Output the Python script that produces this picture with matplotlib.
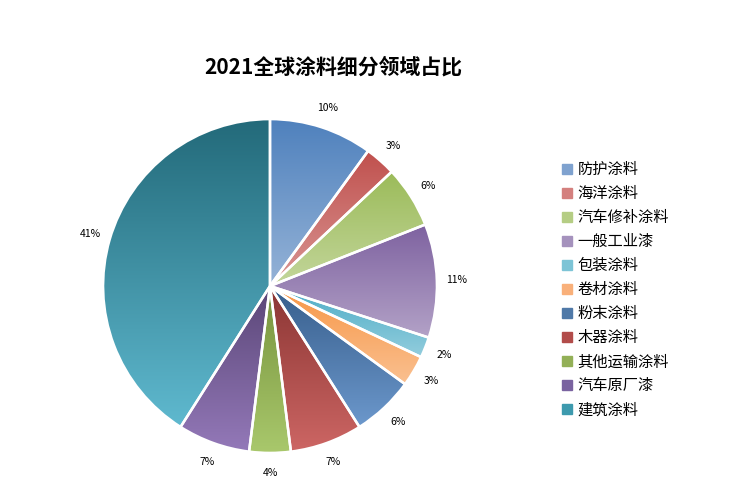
import numpy as np
import matplotlib
matplotlib.use('Agg')
import matplotlib.pyplot as plt
from matplotlib.colors import to_rgb
from matplotlib.lines import Line2D

plt.rcParams['font.family'] = ['Noto Sans CJK SC', 'DejaVu Sans']

# data
categories = ['防护涂料', '海洋涂料', '汽车修补涂料', '一般工业漆', '包装涂料', '卷材涂料',
              '粉末涂料', '木器涂料', '其他运输涂料', '汽车原厂漆', '建筑涂料']
shares = [10, 3, 6, 11, 2, 3, 6, 7, 4, 7, 41]

# gradient colours (top, bottom) for each slice
top_colors = ['#4f81bd', '#c0504d', '#9bbb59', '#7e62a0', '#4bacc6', '#f79646',
              '#375e8c', '#8a3533', '#76923c', '#5a4677', '#236a7a']
bottom_colors = ['#95b3d7', '#d99694', '#c3d69b', '#b3a2c7', '#93cddd', '#fac090',
                 '#6c98cc', '#cd6664', '#a9c86c', '#9479b9', '#5fb9cf']
legend_colors = ['#7fa2cf', '#d4807e', '#b5cd84', '#a592bd', '#7dc4d6', '#f9b07a',
                 '#4f79a8', '#b24c4a', '#93b057', '#7a63a0', '#3d9aae']

fig = plt.figure(figsize=(7.42, 5.0), dpi=100)
ax = fig.add_axes([53 / 742, -3 / 500, 434 / 742, 434 / 500])

wedges, texts = ax.pie(shares, startangle=90, counterclock=False, radius=1.0,
                       labels=[f'{v}%' for v in shares], labeldistance=1.12,
                       wedgeprops=dict(edgecolor='white', linewidth=1.8, facecolor='none'),
                       textprops=dict(fontsize=7.5, ha='center', va='center'))

for w, c1, c2 in zip(wedges, top_colors, bottom_colors):
    ext = w.get_path().get_extents()
    t = np.linspace(0, 1, 256)[:, None]
    grad = (1 - t) * np.array(to_rgb(c1)) + t * np.array(to_rgb(c2))
    im = ax.imshow(grad[:, None, :], extent=[ext.x0, ext.x1, ext.y0, ext.y1],
                   origin='upper', aspect='auto', zorder=1, interpolation='bilinear')
    im.set_clip_path(w)
    w.set_zorder(2)

ax.set_xlim(-1.3, 1.3)
ax.set_ylim(-1.3, 1.3)
ax.set_aspect('equal')
ax.axis('off')

fig.text(333 / 742, 1 - 67 / 500, '2021全球涂料细分领域占比', ha='center', va='center',
         fontsize=15, fontweight='bold')

handles = [Line2D([], [], marker='s', linestyle='none', markersize=7,
                  markerfacecolor=c, markeredgecolor=c) for c in legend_colors]
fig.legend(handles, categories, loc='upper left', bbox_to_anchor=(556 / 742, 1 - 155 / 500),
           frameon=False, fontsize=11, handlelength=0.7, handletextpad=0.3,
           labelspacing=0.46, borderaxespad=0)

fig.savefig('out.png', dpi=100, facecolor='white')
